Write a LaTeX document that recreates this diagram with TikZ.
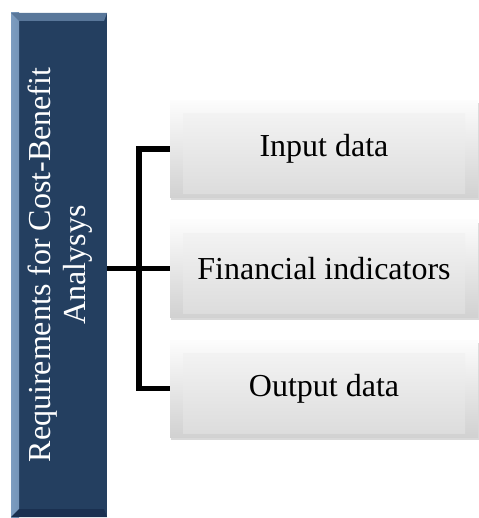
\documentclass[tikz,border=0pt]{standalone}
\usepackage{xcolor}
\usepackage{tikz}
\usepackage{fontspec}
\setmainfont{Liberation Serif}
\usetikzlibrary{arrows.meta, positioning, calc, shadows}
\definecolor{reqblue}{HTML}{243F60}
\definecolor{reqlight}{HTML}{7C9CC0}
\definecolor{reqdark}{HTML}{1A3050}

\tikzset{
    reqbox/.style={fill=reqblue, minimum width=96pt, minimum height=504pt, inner sep=0pt,
        text=white, font=\fontsize{32}{37}\selectfont,
        path picture={
            \shade[left color=reqlight, right color=reqblue]
                (path picture bounding box.north west) rectangle ([xshift=8pt]path picture bounding box.south west);
            \fill[reqdark] (path picture bounding box.south west) -- ++(8pt,8pt) -- ([shift={(-3pt,8pt)}]path picture bounding box.south east) -- (path picture bounding box.south east) -- cycle;
            \fill[reqlight!60!reqblue] (path picture bounding box.north west) -- ++(8pt,-8pt) -- ([shift={(-3pt,-8pt)}]path picture bounding box.north east) -- (path picture bounding box.north east) -- cycle;
        }},
    itembox/.style={top color=gray!2, bottom color=gray!36, minimum width=308pt, minimum height=97pt,
        inner sep=0pt, font=\fontsize{32}{37}\selectfont,
        drop shadow={opacity=0.3, shadow xshift=1pt, shadow yshift=-3pt},
        path picture={
            \shade[top color=gray!7, bottom color=gray!28]
                ([shift={(13pt,-13pt)}]path picture bounding box.north west) rectangle ([shift={(-13pt,4pt)}]path picture bounding box.south east);
        }},
    link/.style={line width=5.5pt, black}
}

\begin{document}
\begin{tikzpicture}[x=1pt, y=-1pt]
    \useasboundingbox (0,0) rectangle (478,518);

    \node[reqbox] (req) at (59,265) {\hspace{4pt}\rotatebox{90}{\begin{tabular}{@{}c@{}}Requirements for Cost-Benefit\\[-2pt] Analysys\end{tabular}}};

    \node[itembox] (input) at (324,149) {Input data};
    \node[itembox] (fin) at (324,268.5) {Financial indicators};
    \node[itembox] (output) at (324,388.5) {Output data};

    % bracket
    \draw[link] (input.west) -- ++(-31,0) coordinate (jt) |- (output.west);
    \draw[link] (fin.west -| req.east) -- (fin.west);
\end{tikzpicture}
\end{document}
